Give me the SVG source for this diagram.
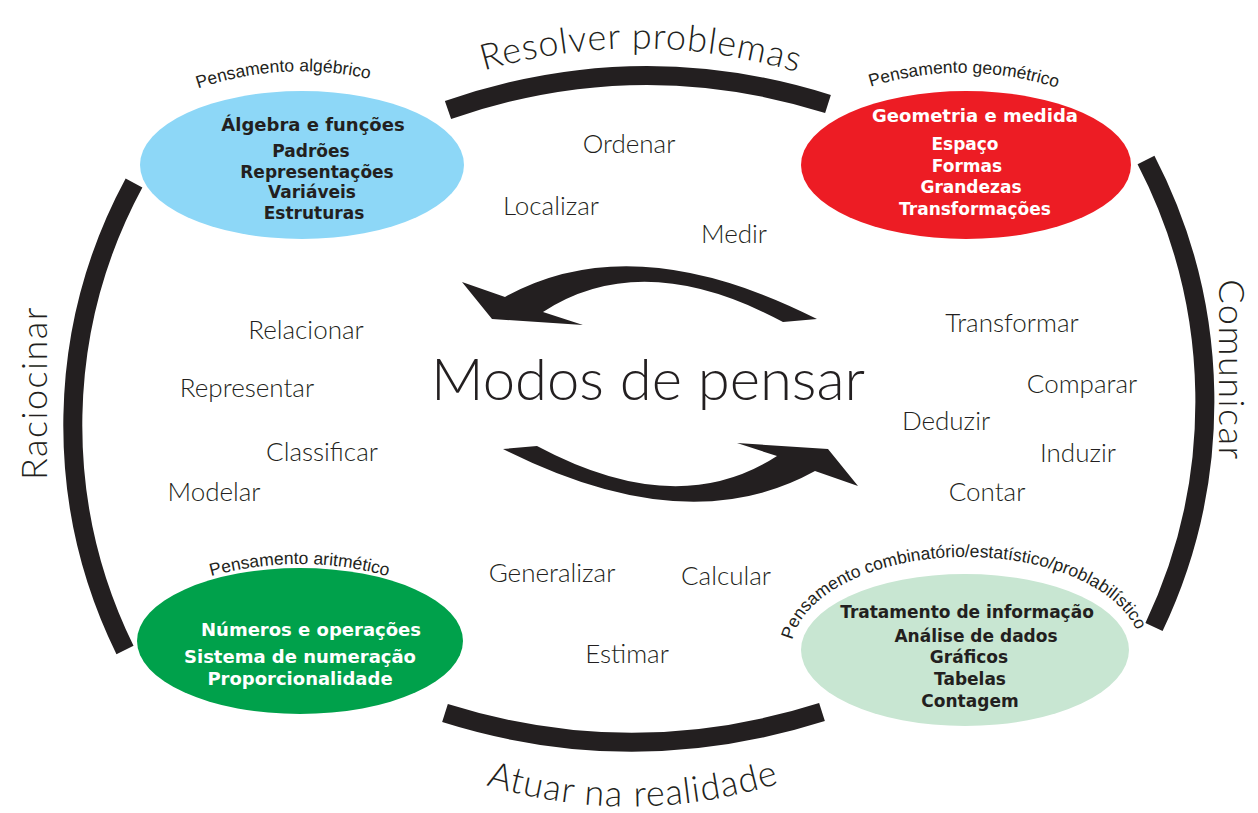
<svg xmlns="http://www.w3.org/2000/svg" width="1258" height="813" viewBox="0 0 1258 813">
<style>
.band{fill:none;stroke:#231f20;stroke-width:19}
.arrow{fill:#231f20}
.lbl{font-family:"Liberation Sans",Arial,sans-serif;font-size:17.5px;fill:#231f20}
.ttl{font-family:"DejaVu Sans",sans-serif;font-weight:bold;text-anchor:middle}
.t18{font-size:18px}
.t17{font-size:17px}
.dark{fill:#231f20}
.white{fill:#ffffff}
.word{font-family:Lato,"Open Sans",sans-serif;font-weight:300;font-size:26px;fill:#231f20;text-anchor:middle}
.big{font-family:Lato,"Open Sans",sans-serif;font-weight:300;fill:#231f20}
.side{font-size:36px;letter-spacing:1.5px}
</style>
<defs>
<path id="pRes" d="M460,78 Q640,18 822,80"/>
<path id="pAtu" d="M470,780 Q632,834 796,778"/>
<path id="pAlg" d="M186,93 Q283,56 382,82"/>
<path id="pGeo" d="M858,91 Q962,54 1070,92"/>
<path id="pAri" d="M198,580 Q300,548 401,580"/>
<path id="pCom" d="M801.6,684.5 A175,95 0 1 1 1130.4,684.5"/>
</defs>

<g id="connectors">
<path class="band" d="M448,110 Q638,44 828,104"/>
<path class="band" d="M445,713 Q633,772 822,712"/>
<path class="band" d="M134,183 A510,510 0 0 0 125,650"/>
<path class="band" d="M1146,160 A525,525 0 0 1 1154,627"/>
<path class="arrow" d="M462,282 L505,297 Q633,226 817,319 L783,322 Q643,247 543,312 L583,325 L492,319 Z"/>
<path class="arrow" transform="rotate(180 660 384)" d="M462,282 L505,297 Q633,226 817,319 L783,322 Q643,247 543,312 L583,325 L492,319 Z"/>
</g>

<g id="labels">
<text class="big" font-size="36" letter-spacing="1" text-anchor="middle"><textPath href="#pRes" startOffset="50%">Resolver problemas</textPath></text>
<text class="big" font-size="36" letter-spacing="1" text-anchor="middle"><textPath href="#pAtu" startOffset="50%">Atuar na realidade</textPath></text>
<text class="big side" text-anchor="middle" transform="translate(47,393) rotate(-90)">Raciocinar</text>
<text class="big side" text-anchor="middle" transform="translate(1219,370) rotate(90)">Comunicar</text>
</g>

<g id="node-algebrico">
<ellipse cx="302" cy="165" rx="162" ry="74" fill="#8dd7f7"/>
<text class="lbl" text-anchor="middle"><textPath href="#pAlg" startOffset="50%">Pensamento algébrico</textPath></text>
<text class="ttl t18 dark" x="313" y="131">Álgebra e funções</text>
<text class="ttl t17 dark" x="311" y="157">Padrões</text>
<text class="ttl t17 dark" x="317" y="178">Representações</text>
<text class="ttl t17 dark" x="312" y="198">Variáveis</text>
<text class="ttl t17 dark" x="314" y="219">Estruturas</text>
</g>

<g id="node-geometrico">
<ellipse cx="966" cy="165" rx="165" ry="74" fill="#ed1c24"/>
<text class="lbl" text-anchor="middle"><textPath href="#pGeo" startOffset="50%">Pensamento geométrico</textPath></text>
<text class="ttl t18 white" x="975" y="122">Geometria e medida</text>
<text class="ttl t17 white" x="965" y="150">Espaço</text>
<text class="ttl t17 white" x="967" y="172">Formas</text>
<text class="ttl t17 white" x="971" y="193">Grandezas</text>
<text class="ttl t17 white" x="975" y="215">Transformações</text>
</g>

<g id="node-aritmetico">
<ellipse cx="300" cy="641" rx="163" ry="73" fill="#00a14b"/>
<text class="lbl" text-anchor="middle"><textPath href="#pAri" startOffset="50%">Pensamento aritmético</textPath></text>
<text class="ttl t18 white" x="311" y="636">Números e operações</text>
<text class="ttl t18 white" x="300" y="663">Sistema de numeração</text>
<text class="ttl t18 white" x="300" y="685">Proporcionalidade</text>
</g>

<g id="node-combinatorio">
<ellipse cx="965" cy="650" rx="164" ry="76" fill="#c8e6d2"/>
<text class="lbl" text-anchor="middle"><textPath href="#pCom" startOffset="49%">Pensamento combinatório/estatístico/problabilístico</textPath></text>
<text class="ttl t17 dark" x="967" y="618">Tratamento de informação</text>
<text class="ttl t17 dark" x="976" y="642">Análise de dados</text>
<text class="ttl t17 dark" x="969" y="663">Gráficos</text>
<text class="ttl t17 dark" x="970" y="685">Tabelas</text>
<text class="ttl t17 dark" x="970" y="707">Contagem</text>
</g>

<g id="node-center">
<text class="big" font-size="58" text-anchor="middle" x="648" y="400">Modos de pensar</text>
</g>

<g id="words">
<text class="word" x="629" y="153">Ordenar</text>
<text class="word" x="551" y="215">Localizar</text>
<text class="word" x="734" y="243">Medir</text>
<text class="word" x="306" y="339">Relacionar</text>
<text class="word" x="247" y="397">Representar</text>
<text class="word" x="322" y="461">Classificar</text>
<text class="word" x="214" y="501">Modelar</text>
<text class="word" x="1012" y="332">Transformar</text>
<text class="word" x="1082" y="393">Comparar</text>
<text class="word" x="946" y="430">Deduzir</text>
<text class="word" x="1078" y="462">Induzir</text>
<text class="word" x="987" y="501">Contar</text>
<text class="word" x="552" y="582">Generalizar</text>
<text class="word" x="726" y="585">Calcular</text>
<text class="word" x="627" y="663">Estimar</text>
</g>
</svg>
